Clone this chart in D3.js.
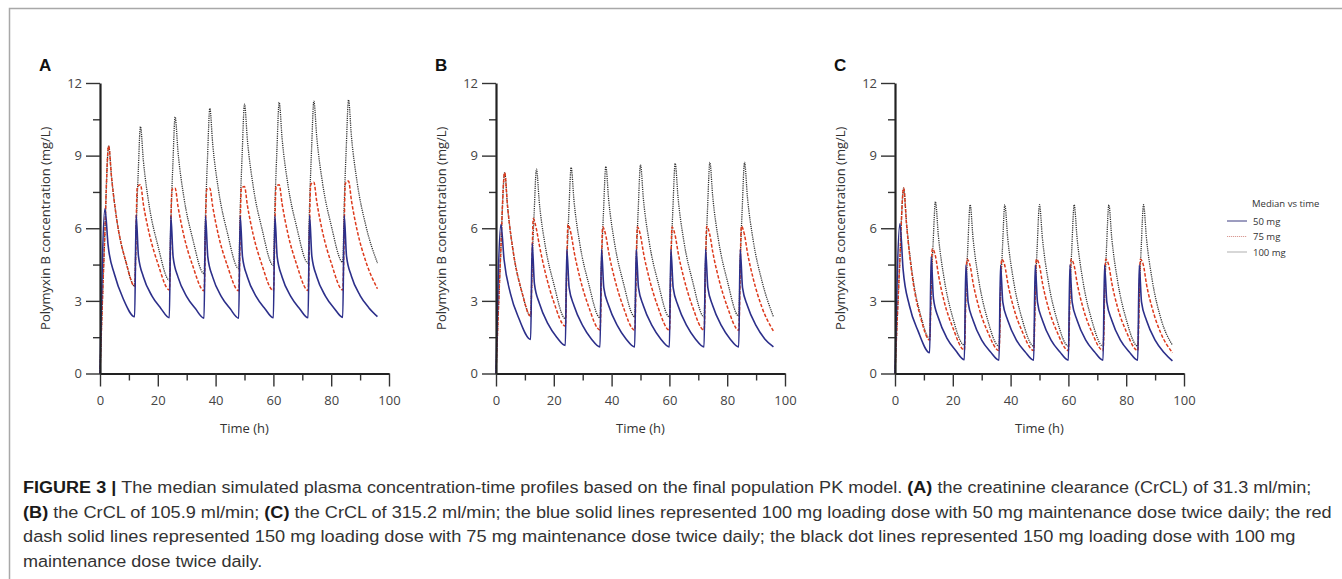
<!DOCTYPE html>
<html>
<head>
<meta charset="utf-8">
<script src="https://cdn.jsdelivr.net/npm/d3@7"></script>
<style>
  body { margin: 0; background: #fff; }
  svg { display: block; }
</style>
</head>
<body>
<svg id="fig" width="1342" height="579"></svg>
<script>
// ---- data ----
const panelLetters = ["A", "B", "C"];
const yTicks = [0, 3, 6, 9, 12];
const yMinorTicks = [1.5, 4.5, 7.5, 10.5];
const xTicks = [0, 20, 40, 60, 80, 100];
const xMinorTicks = [10, 30, 50, 70, 90];
const legendLabels = ["50 mg", "75 mg", "100 mg"];

// sampling times (h) for each dosing regimen
const timeBlue = [0, 1.7, 2.8, 5, 8, 12,
  12.5, 13.3, 15, 18, 21, 24,
  24.5, 25.3, 27, 30, 33, 36,
  36.5, 37.3, 39, 42, 45, 48,
  48.5, 49.3, 51, 54, 57, 60,
  60.5, 61.3, 63, 66, 69, 72,
  72.5, 73.3, 75, 78, 81, 84,
  84.5, 85.3, 87, 90, 93, 96];
const timeRed = [0, 1.5, 3, 4, 6, 9, 12,
  12.9, 14, 15, 17, 20, 24,
  24.9, 26, 27, 29, 32, 36,
  36.9, 38, 39, 41, 44, 48,
  48.9, 50, 51, 53, 56, 60,
  60.9, 62, 63, 65, 68, 72,
  72.9, 74, 75, 77, 80, 84,
  84.9, 86, 87, 89, 92, 96];
const timeBlack = [0, 1.5, 3, 4, 6, 9, 12,
  12.5, 13.2, 14, 15, 17, 20, 24,
  24.5, 25.2, 26, 27, 29, 32, 36,
  36.5, 37.2, 38, 39, 41, 44, 48,
  48.5, 49.2, 50, 51, 53, 56, 60,
  60.5, 61.2, 62, 63, 65, 68, 72,
  72.5, 73.2, 74, 75, 77, 80, 84,
  84.5, 85.2, 86, 87, 89, 92, 96];

// panel A, CrCL 31.3 ml/min
const blueA = [0, 6.8, 5.3, 4.1, 3.1, 2.35,
  6.55, 4.85, 4.0, 3.2, 2.7, 2.3,
  6.5, 4.82, 3.98, 3.18, 2.68, 2.28,
  6.5, 4.82, 3.98, 3.18, 2.68, 2.28,
  6.5, 4.83, 3.99, 3.19, 2.69, 2.3,
  6.5, 4.83, 3.99, 3.19, 2.69, 2.3,
  6.52, 4.85, 4.0, 3.2, 2.7, 2.32,
  6.52, 4.85, 4.02, 3.22, 2.72, 2.35];
const redA = [0, 5.2, 9.4, 8.1, 6.2, 4.6, 3.6,
  7.7, 7.8, 7.0, 5.8, 4.55, 3.45,
  7.6, 7.65, 6.9, 5.7, 4.48, 3.42,
  7.6, 7.65, 6.9, 5.7, 4.48, 3.42,
  7.65, 7.72, 6.95, 5.74, 4.5, 3.42,
  7.72, 7.8, 7.02, 5.78, 4.52, 3.43,
  7.8, 7.9, 7.1, 5.85, 4.57, 3.45,
  7.85, 7.95, 7.15, 5.9, 4.62, 3.5];
const blackA = [0, 5.2, 9.4, 8.1, 6.2, 4.6, 3.6,
  5.91, 8.22, 10.2, 8.8, 6.95, 5.3, 3.85,
  6.21, 8.58, 10.6, 9.15, 7.3, 5.6, 4.12,
  6.51, 8.9, 10.95, 9.48, 7.58, 5.85, 4.33,
  6.71, 9.09, 11.13, 9.65, 7.74, 6.0, 4.46,
  6.82, 9.18, 11.2, 9.72, 7.82, 6.08, 4.56,
  6.9, 9.24, 11.25, 9.77, 7.87, 6.12, 4.6,
  6.95, 9.29, 11.3, 9.8, 7.88, 6.1, 4.56];

// panel B, CrCL 105.9 ml/min
const blueB = [0, 6.15, 4.7, 3.3, 2.25, 1.41,
  5.38, 3.7, 2.9, 2.05, 1.5, 1.16,
  5.13, 3.55, 2.8, 1.98, 1.43, 1.1,
  5.13, 3.55, 2.8, 1.98, 1.43, 1.1,
  5.13, 3.55, 2.8, 1.98, 1.43, 1.1,
  5.13, 3.55, 2.8, 1.98, 1.43, 1.1,
  5.13, 3.55, 2.8, 1.98, 1.43, 1.1,
  5.13, 3.55, 2.8, 1.98, 1.43, 1.1];
const redB = [0, 4.6, 8.3, 6.9, 5.0, 3.35, 2.37,
  6.4, 5.95, 5.3, 4.2, 2.95, 1.96,
  6.15, 5.75, 5.05, 3.97, 2.78, 1.8,
  6.05, 5.7, 5.0, 3.94, 2.76, 1.79,
  6.05, 5.7, 5.0, 3.94, 2.76, 1.79,
  6.05, 5.7, 5.0, 3.94, 2.76, 1.79,
  6.08, 5.72, 5.02, 3.95, 2.77, 1.79,
  6.08, 5.72, 5.0, 3.92, 2.74, 1.75];
const blackB = [0, 4.6, 8.3, 6.9, 5.0, 3.35, 2.37,
  4.49, 6.62, 8.44, 7.05, 5.3, 3.7, 2.26,
  4.45, 6.64, 8.51, 7.12, 5.36, 3.74, 2.3,
  4.49, 6.68, 8.55, 7.16, 5.4, 3.78, 2.34,
  4.54, 6.74, 8.62, 7.21, 5.44, 3.8, 2.34,
  4.56, 6.78, 8.68, 7.26, 5.47, 3.82, 2.34,
  4.57, 6.81, 8.72, 7.3, 5.5, 3.85, 2.37,
  4.59, 6.82, 8.72, 7.29, 5.49, 3.83, 2.34];

// panel C, CrCL 315.2 ml/min
const blueC = [0, 6.18, 4.3, 2.8, 1.75, 0.86,
  4.83, 3.1, 2.3, 1.45, 0.95, 0.57,
  4.48, 2.95, 2.2, 1.38, 0.9, 0.55,
  4.48, 2.95, 2.2, 1.38, 0.9, 0.55,
  4.48, 2.95, 2.2, 1.38, 0.9, 0.55,
  4.48, 2.95, 2.2, 1.38, 0.9, 0.55,
  4.48, 2.95, 2.2, 1.38, 0.9, 0.55,
  4.48, 2.95, 2.2, 1.38, 0.88, 0.52];
const redC = [0, 4.2, 7.66, 6.15, 4.0, 2.25, 1.38,
  5.15, 4.85, 4.1, 2.98, 1.9, 0.97,
  4.72, 4.45, 3.75, 2.74, 1.74, 0.95,
  4.72, 4.45, 3.75, 2.74, 1.74, 0.95,
  4.72, 4.45, 3.75, 2.74, 1.74, 0.95,
  4.72, 4.45, 3.75, 2.74, 1.74, 0.95,
  4.72, 4.45, 3.75, 2.74, 1.74, 0.95,
  4.72, 4.45, 3.7, 2.7, 1.66, 0.86];
const blackC = [0, 4.2, 7.66, 6.2, 4.1, 2.35, 1.45,
  3.43, 5.41, 7.1, 5.7, 3.92, 2.3, 1.17,
  3.2, 5.23, 6.97, 5.6, 3.84, 2.24, 1.13,
  3.17, 5.22, 6.97, 5.6, 3.84, 2.24, 1.13,
  3.17, 5.22, 6.97, 5.6, 3.84, 2.24, 1.13,
  3.17, 5.22, 6.97, 5.6, 3.84, 2.24, 1.13,
  3.17, 5.22, 6.97, 5.6, 3.84, 2.24, 1.13,
  3.17, 5.22, 6.97, 5.6, 3.86, 2.27, 1.17];

const captionLines = [
  [["FIGURE 3 | ", true], ["The median simulated plasma concentration-time profiles based on the final population PK model. ", false], ["(A)", true], [" the creatinine clearance (CrCL) of 31.3 ml/min;", false]],
  [["(B)", true], [" the CrCL of 105.9 ml/min; ", false], ["(C)", true], [" the CrCL of 315.2 ml/min; the blue solid lines represented 100 mg loading dose with 50 mg maintenance dose twice daily; the red", false]],
  [["dash solid lines represented 150 mg loading dose with 75 mg maintenance dose twice daily; the black dot lines represented 150 mg loading dose with 100 mg", false]],
  [["maintenance dose twice daily.", false]]
];

const panels = [
  { blue: blueA, red: redA, black: blackA },
  { blue: blueB, red: redB, black: blackB },
  { blue: blueC, red: redC, black: blackC }
];

// ---- drawing ----
const svg = d3.select("#fig");
const font = "'Open Sans', 'Noto Sans', sans-serif";

// page frame
svg.append("path")
  .attr("d", "M9.5,579 V8.5 H1342")
  .attr("fill", "none")
  .attr("stroke", "#a8a8a8")
  .attr("stroke-width", 1.5);

const panelX = [100, 496, 895];
const plotW = 289;
const yTop = 83, yBottom = 373.5;

const y = d3.scaleLinear().domain([0, 12]).range([yBottom, yTop]);

panels.forEach((p, i) => {
  const x = d3.scaleLinear().domain([0, 100]).range([panelX[i], panelX[i] + plotW]);
  const g = svg.append("g");

  // panel letter
  g.append("text")
    .attr("x", panelX[i] - 61)
    .attr("y", 71)
    .attr("font-family", "'Liberation Sans', Arial, sans-serif")
    .attr("font-weight", "bold")
    .attr("font-size", 17)
    .attr("fill", "#111")
    .text(panelLetters[i]);

  // series
  const line = d3.line().x(d => x(d[0])).y(d => y(d[1])).curve(d3.curveMonotoneX);
  g.append("path")
    .datum(d3.zip(timeBlack, p.black))
    .attr("d", line)
    .attr("fill", "none")
    .attr("stroke", "#333")
    .attr("stroke-width", 1.3)
    .attr("stroke-dasharray", "1.2 1");
  g.append("path")
    .datum(d3.zip(timeRed, p.red))
    .attr("d", line)
    .attr("fill", "none")
    .attr("stroke", "#dd3a1c")
    .attr("stroke-width", 1.5)
    .attr("stroke-dasharray", "3.5 1.8");
  g.append("path")
    .datum(d3.zip(timeBlue, p.blue))
    .attr("d", line)
    .attr("fill", "none")
    .attr("stroke", "#2c2f8a")
    .attr("stroke-width", 1.6);

  // minor ticks
  g.append("g")
    .attr("transform", `translate(${panelX[i]},0)`)
    .call(d3.axisLeft(y).tickValues(yMinorTicks).tickSize(7).tickSizeOuter(0).tickFormat(""))
    .call(a => a.select(".domain").remove());
  g.append("g")
    .attr("transform", `translate(0,${yBottom})`)
    .call(d3.axisBottom(x).tickValues(xMinorTicks).tickSize(7).tickSizeOuter(0).tickFormat(""))
    .call(a => a.select(".domain").remove());

  // major axes
  const ya = g.append("g")
    .attr("transform", `translate(${panelX[i]},0)`)
    .call(d3.axisLeft(y).tickValues(yTicks).tickSize(14).tickPadding(4).tickSizeOuter(0));
  const xa = g.append("g")
    .attr("transform", `translate(0,${yBottom})`)
    .call(d3.axisBottom(x).tickValues(xTicks).tickSize(13).tickPadding(9).tickSizeOuter(0));

  [ya, xa].forEach(a => {
    a.select(".domain").attr("stroke", "#222").attr("stroke-width", 2.2);
    a.selectAll(".tick text")
      .attr("font-family", font)
      .attr("font-size", 13)
      .attr("fill", "#444");
  });
  g.selectAll(".tick line").attr("stroke", "#333").attr("stroke-width", 1.4);

  // axis titles
  g.append("text")
    .attr("x", panelX[i] + plotW / 2)
    .attr("y", 433)
    .attr("text-anchor", "middle")
    .attr("font-family", font)
    .attr("font-size", 13)
    .attr("fill", "#333")
    .text("Time (h)");
  g.append("text")
    .attr("transform", `translate(${panelX[i] - 50},${(yTop + yBottom) / 2}) rotate(-90)`)
    .attr("text-anchor", "middle")
    .attr("font-family", font)
    .attr("font-size", 13)
    .attr("fill", "#333")
    .text("Polymyxin B concentration (mg/L)");
});

// legend
const legend = svg.append("g").attr("font-family", font).attr("font-size", 9.5).attr("fill", "#333");
legend.append("text").attr("x", 1252).attr("y", 207).text("Median vs time");
const legendStyles = [
  { stroke: "#3a3a80", dash: null, w: 1 },
  { stroke: "#d99a94", dash: "1.2 0.8", w: 1 },
  { stroke: "#bdbdbd", dash: null, w: 1.2 }
];
legendLabels.forEach((lab, i) => {
  const ly = 221 + i * 15.5;
  legend.append("line")
    .attr("x1", 1227).attr("x2", 1247)
    .attr("y1", ly).attr("y2", ly)
    .attr("stroke", legendStyles[i].stroke)
    .attr("stroke-width", legendStyles[i].w)
    .attr("stroke-dasharray", legendStyles[i].dash);
  legend.append("text").attr("x", 1253).attr("y", ly + 3.5).text(lab);
});

// caption
const capWidths = [1290, 1309, 1273, null];
let firstScale = 1;
captionLines.forEach((parts, i) => {
  const t = svg.append("text")
    .attr("font-family", "'Liberation Sans', Arial, sans-serif")
    .attr("font-size", 17)
    .attr("fill", "#2f2f2f");
  parts.forEach(([s, bold]) => {
    t.append("tspan")
      .attr("font-weight", bold ? "bold" : "normal")
      .attr("fill", bold ? "#1a1a1a" : "#333")
      .text(s);
  });
  const w = t.node().getComputedTextLength();
  let sx = capWidths[i] ? capWidths[i] / w : firstScale;
  if (i === 0) firstScale = sx;
  t.attr("transform", `translate(23,${493 + i * 24.5}) scale(${sx},1)`);
});
</script>
</body>
</html>
